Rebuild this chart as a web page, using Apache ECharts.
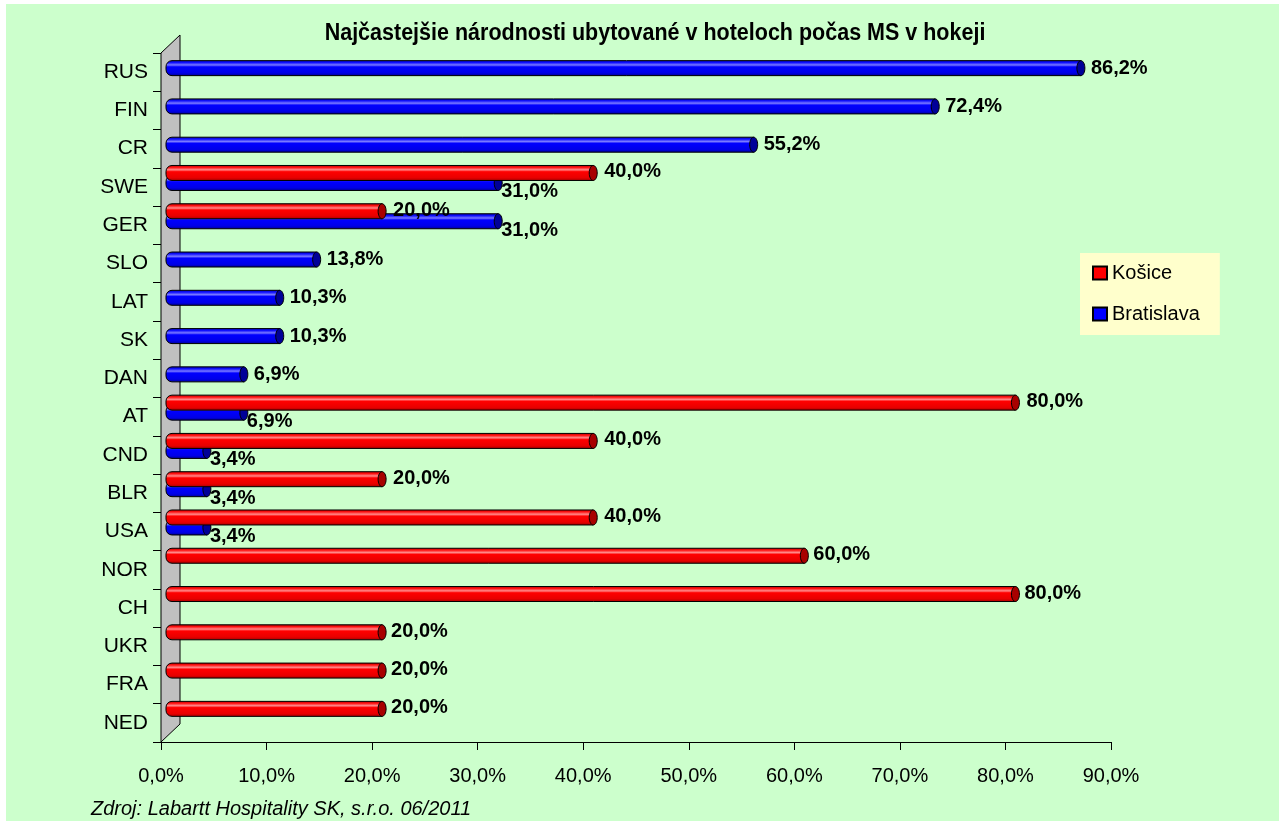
<!DOCTYPE html>
<html>
<head>
<meta charset="utf-8">
<script src="https://cdn.jsdelivr.net/npm/echarts@6/dist/echarts.min.js"></script>
<style>
  html, body { margin: 0; padding: 0; background: #fff; }
  #chart { width: 1279px; height: 821px; }
</style>
</head>
<body>
<div id="chart"></div>
<script>
// data
const categories = ['RUS', 'FIN', 'CR', 'SWE', 'GER', 'SLO', 'LAT', 'SK', 'DAN', 'AT', 'CND', 'BLR', 'USA', 'NOR', 'CH', 'UKR', 'FRA', 'NED'];
const kosice = [null, null, null, 40.0, 20.0, null, null, null, null, 80.0, 40.0, 20.0, 40.0, 60.0, 80.0, 20.0, 20.0, 20.0];
const bratislava = [86.2, 72.4, 55.2, 31.0, 31.0, 13.8, 10.3, 10.3, 6.9, 6.9, 3.4, 3.4, 3.4, null, null, null, null, null];
const xMin = 0, xMax = 90, xStep = 10;

const FONT = '"Liberation Sans", Arial, sans-serif';
const GRID = { left: 161, top: 53, width: 950, height: 689 };
const DEPTH = { dx: 19, dy: -18 };  // wall depth of the 3D look
const DX = 10, DY = -9;             // bars sit halfway into the depth
const BAR_H = 15;

const fmt = v => v.toFixed(1).replace('.', ',') + '%';

const styles = {
  red: {
    stops: [[0, '#b00000'], [0.15, '#ff1010'], [0.3, '#ff8a8a'], [0.42, '#ff0000'], [0.8, '#e80000'], [1, '#a00000']],
    cap: '#a80000'
  },
  blue: {
    stops: [[0, '#0000b0'], [0.15, '#1010ff'], [0.3, '#7a7aff'], [0.42, '#0000ff'], [0.8, '#0000e8'], [1, '#000090']],
    cap: '#000098'
  }
};

function grad(stops) {
  return new echarts.graphic.LinearGradient(0, 0, 0, 1, stops.map(s => ({ offset: s[0], color: s[1] })));
}

function paired(i) {
  return kosice[i] != null && bratislava[i] != null;
}

function makeRender(kind) {
  const st = styles[kind];
  return function (params, api) {
    const v = api.value(0), ci = api.value(1);
    const p0 = api.coord([0, ci]);
    const p1 = api.coord([v, ci]);
    const slot = kind === 'red' ? -5 : 5;
    const y = p0[1] + DY + slot;
    const x0 = p0[0] + 5;
    const x1 = p1[0] + DX;
    let lx, ly;
    if (kind === 'red') {
      lx = x1 + 4 + (paired(ci) ? 7 : 5);
      ly = y - 1;
    } else if (paired(ci)) {
      lx = x1 + 3;
      ly = y + 9;
    } else {
      lx = x1 + 4 + 6;
      ly = y;
    }
    return {
      type: 'group',
      children: [
        {
          type: 'rect',
          shape: { x: x0, y: y - BAR_H / 2, width: x1 - x0, height: BAR_H, r: [6, 0, 0, 6] },
          style: { fill: grad(st.stops), stroke: '#000', lineWidth: 1 }
        },
        {
          type: 'ellipse',
          shape: { cx: x1, cy: y, rx: 4, ry: BAR_H / 2 },
          style: { fill: st.cap, stroke: '#000', lineWidth: 1 }
        },
        {
          type: 'text',
          x: lx, y: ly,
          style: {
            text: fmt(v), fill: '#000', font: 'bold 20px ' + FONT,
            textAlign: 'left', textVerticalAlign: 'middle'
          }
        }
      ]
    };
  };
}

const kosiceData = kosice.map((v, i) => [v, i]).filter(d => d[0] != null);
const bratislavaData = bratislava.map((v, i) => [v, i]).filter(d => d[0] != null);

const chart = echarts.init(document.getElementById('chart'), null, { renderer: 'canvas' });

const gx = GRID.left, gy = GRID.top, gb = GRID.top + GRID.height;

chart.setOption({
  backgroundColor: '#ffffff',
  animation: false,
  legend: {
    orient: 'vertical',
    left: 1080, top: 253,
    backgroundColor: '#ffffcc',
    padding: [10, 20, 11, 12],
    itemGap: 21,
    itemWidth: 14, itemHeight: 13,
    icon: 'rect',
    data: ['Košice', 'Bratislava'],
    textStyle: { fontFamily: FONT, fontSize: 20, color: '#000' }
  },
  grid: { left: GRID.left, top: GRID.top, width: GRID.width, height: GRID.height },
  xAxis: {
    type: 'value', min: xMin, max: xMax, interval: xStep,
    axisLine: { show: true, lineStyle: { color: '#000', width: 1 } },
    axisTick: { show: true, length: 8, lineStyle: { color: '#000' } },
    splitLine: { show: false },
    axisLabel: { formatter: fmt, margin: 24, fontFamily: FONT, fontSize: 20, color: '#000' }
  },
  yAxis: {
    type: 'category', data: categories, inverse: true,
    axisLine: { show: true, lineStyle: { color: '#000', width: 1 } },
    axisTick: { show: true, length: 8, lineStyle: { color: '#000' } },
    axisLabel: { margin: 13, fontFamily: FONT, fontSize: 21, color: '#000' }
  },
  graphic: [
    { type: 'rect', z: -10, silent: true, shape: { x: 6, y: 4, width: 1279, height: 821 }, style: { fill: '#ccffcc' } },
    {
      type: 'polygon', z: 1, silent: true,
      shape: { points: [[gx, gy], [gx + DEPTH.dx, gy + DEPTH.dy], [gx + DEPTH.dx, gb + DEPTH.dy], [gx, gb]] },
      style: { fill: '#c0c0c0', stroke: '#000', lineWidth: 1 }
    },
    {
      type: 'text', x: 655, y: 33, scaleY: 1.15, silent: true,
      style: {
        text: 'Najčastejšie národnosti ubytované v hoteloch počas MS v hokeji',
        font: 'bold 21.5px ' + FONT, fill: '#000', textAlign: 'center', textVerticalAlign: 'middle'
      }
    },
    {
      type: 'text', x: 91, y: 809, silent: true,
      style: {
        text: 'Zdroj: Labartt Hospitality SK, s.r.o. 06/2011',
        font: 'italic 20px ' + FONT, fill: '#000', textVerticalAlign: 'middle'
      }
    }
  ],
  series: [
    {
      name: 'Košice', type: 'custom', z: 4,
      itemStyle: { color: '#ff0000', borderColor: '#000', borderWidth: 1 },
      encode: { x: 0, y: 1 },
      renderItem: makeRender('red'),
      data: kosiceData
    },
    {
      name: 'Bratislava', type: 'custom', z: 3,
      itemStyle: { color: '#0000ff', borderColor: '#000', borderWidth: 1 },
      encode: { x: 0, y: 1 },
      renderItem: makeRender('blue'),
      data: bratislavaData
    }
  ]
});
</script>
</body>
</html>
